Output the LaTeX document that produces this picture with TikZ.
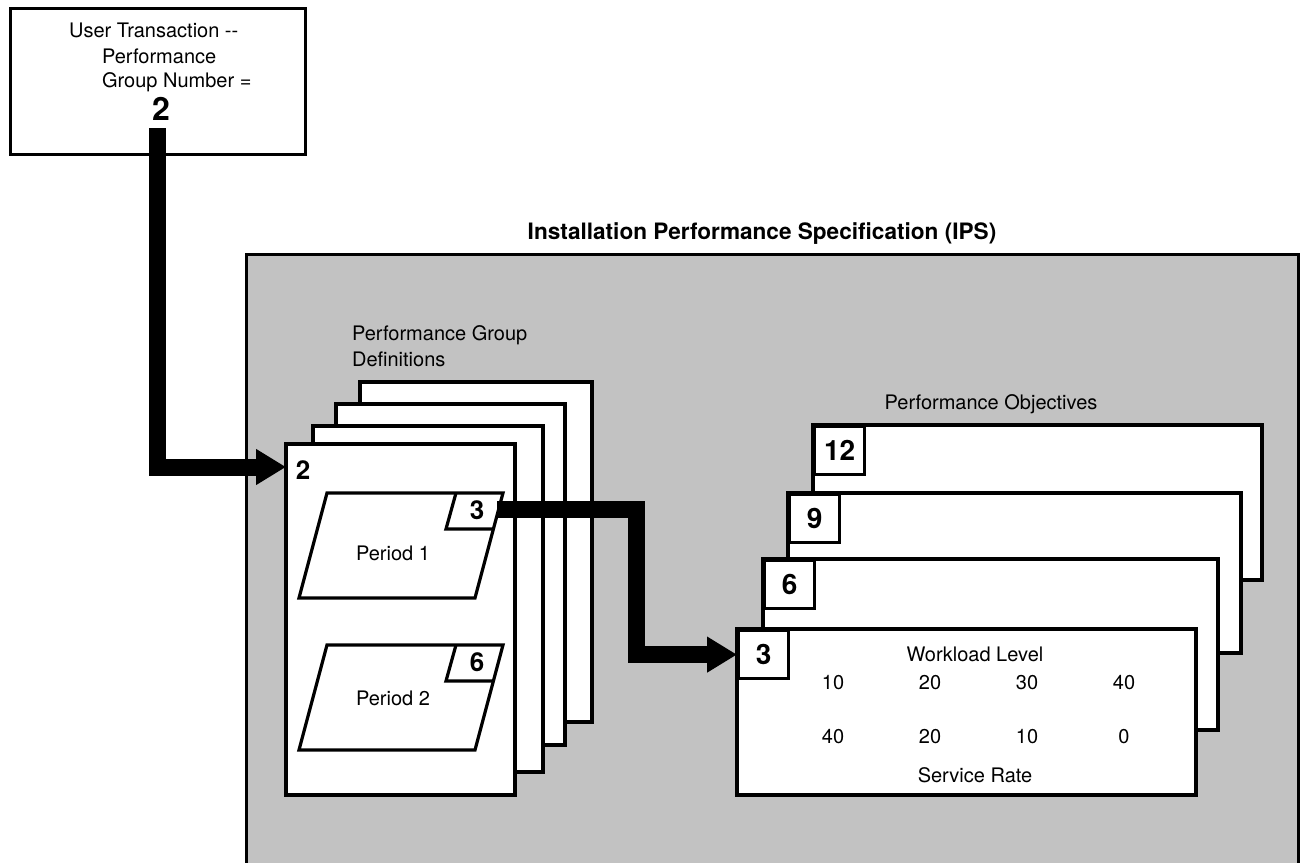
\documentclass[tikz,border=0pt]{standalone}
\usepackage{fontspec}
\setmainfont{TeX Gyre Heros}
\usetikzlibrary{arrows.meta,positioning}
\colorlet{ipsgrey}{black!24}
\newcommand\txtsize{\fontsize{10}{13}\selectfont}
\newcommand\numsize{\fontsize{13}{14}\selectfont\bfseries}
\newcommand\bignum{\fontsize{14}{16}\selectfont\bfseries}

\begin{document}
\begin{tikzpicture}[x=0.5pt,y=-0.5pt,font=\txtsize,
    card/.style={draw,fill=white,line width=1.6pt},
    tagbox/.style={draw,fill=white,line width=1.6pt,font=\bignum,inner sep=0pt,
      minimum width=25pt,minimum height=24pt,anchor=north west},
    bar/.style={line width=8.5pt,-{Triangle[length=15pt,width=17pt]}}]
  \useasboundingbox (0,0) rectangle (1303,863);
  \clip (0,0) rectangle (1303,863);

  % user transaction
  \draw[line width=1.5pt] (10,8) rectangle (305,154);
  \node[anchor=west] (utx1) at (62,30) {User Transaction {-}{-}};
  \node[anchor=west] (utx2) at (95,56) {Performance};
  \node[anchor=west] (utx3) at (95,82) {Group Number =};
  \node[font=\fontsize{16}{17}\selectfont\bfseries] (usrnum) at (161,109) {2};
  \coordinate (usrout) at (157,128);

  % IPS
  \node[font=\fontsize{11.3}{13}\selectfont\bfseries] (ipstitle) at (762,234)
    {Installation Performance Specification (IPS)};
  \draw[line width=1.5pt,fill=ipsgrey] (246,254) rectangle (1298,900);

  % performance group definitions
  \node[anchor=west,align=left] (pgdlbl) at (345,346) {Performance Group\\Definitions};
  \foreach \l/\t/\r/\b in {360/382/592/722,336/404/565/745,313/426/543/772,286/444/515/795}
    \draw[card] (\l,\t) rectangle (\r,\b);
  \node[font=\numsize] (pgdnum) at (303,470) {2};
  \coordinate (pgdin) at (286,467);

  \foreach \y/\n/\p/\ly in {493/3/1/553,645/6/2/698} {
    \draw[card] (327,\y) -- (503,\y) -- (475,\y+105) -- (299,\y+105) -- cycle;
    \draw[line width=1.6pt] (456,\y) -- (446,\y+36) -- (494,\y+36);
    \node[font=\numsize] (pnum\p) at (477,\y+17) {\n};
    \node (plbl\p) at (393,\ly) {Period \p};
  }
  \coordinate (p1out) at (497,509);

  % performance objectives
  \node (polbl) at (991,404) {Performance Objectives};
  \foreach \l/\t/\r/\b/\n in {813/425/1262/580/12,788/493/1241/653/9,
      763/559/1218/730/6,737/629/1196/795/3} {
    \draw[card] (\l,\t) rectangle (\r,\b);
    \node[tagbox] (po\n) at (\l,\t) {\n};
  }
  \node (wlvl) at (975,654) {Workload Level};
  \node (srate) at (975,775) {Service Rate};
  \foreach \x/\w/\s in {833/10/40,930/20/20,1027/30/10,1124/40/0} {
    \node (w\w) at (\x,683) {\w};
    \node (s\w) at (\x,737) {\s};
  }

  % arrows
  \draw[bar] (usrout) |- (pgdin);
  \draw[bar] (p1out) -- ++(139,0) |- (po3.west);
\end{tikzpicture}
\end{document}
